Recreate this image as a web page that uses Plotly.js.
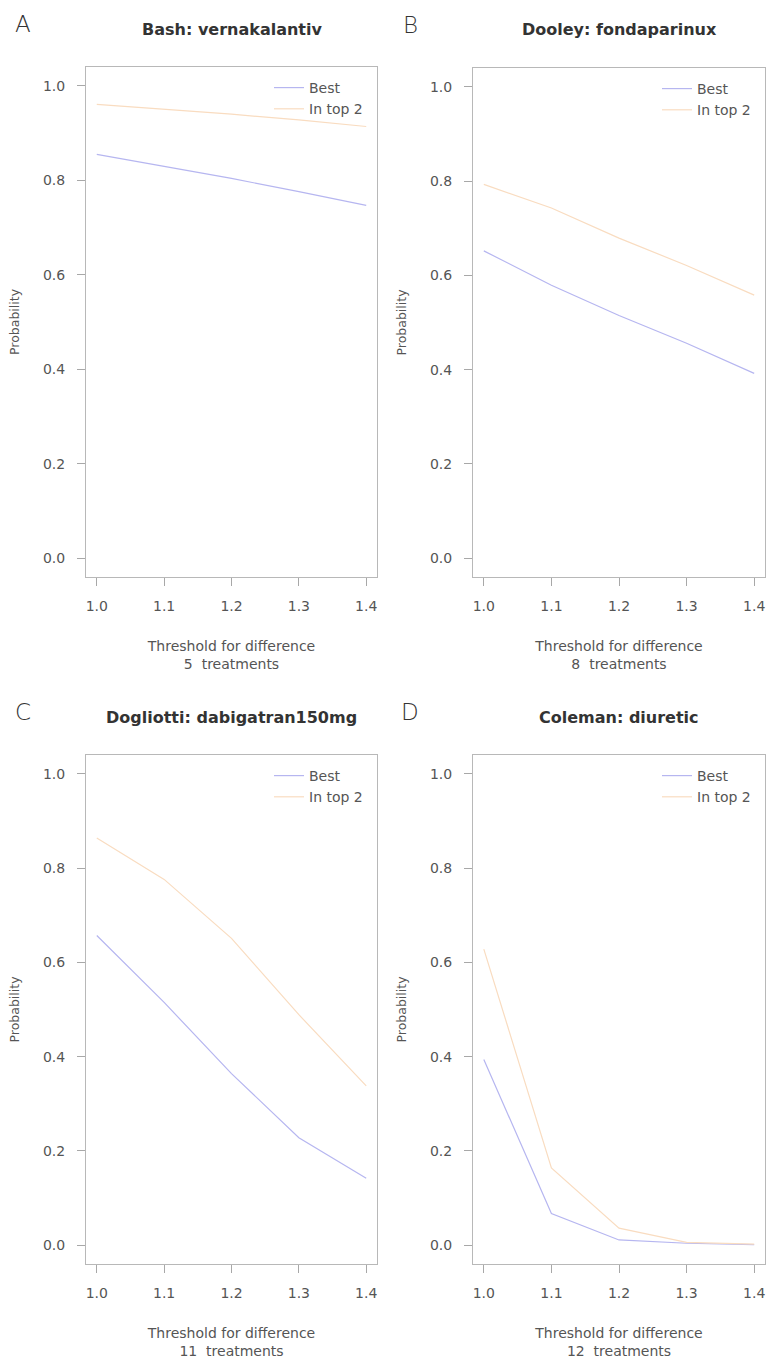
<!DOCTYPE html>
<html>
<head>
<meta charset="utf-8">
<script src="https://cdn.plot.ly/plotly-3.0.1.min.js"></script>
<style>html,body{margin:0;padding:0;background:#fff;}#chart{width:768px;height:1368px;}</style>
</head>
<body>
<div id="chart"></div>
<script>
// ---- data ----
const thresholds = [1.0, 1.1, 1.2, 1.3, 1.4];
const xTickVals = [1.0, 1.1, 1.2, 1.3, 1.4];
const yTickVals = [0.0, 0.2, 0.4, 0.6, 0.8, 1.0];

const bashBest = [0.855, 0.830, 0.804, 0.776, 0.747];
const bashTop2 = [0.961, 0.951, 0.940, 0.928, 0.914];

const dooleyBest = [0.652, 0.579, 0.515, 0.456, 0.392];
const dooleyTop2 = [0.793, 0.743, 0.679, 0.621, 0.558];

const dogliottiBest = [0.657, 0.515, 0.364, 0.228, 0.142];
const dogliottiTop2 = [0.864, 0.776, 0.651, 0.489, 0.338];

const colemanBest = [0.394, 0.067, 0.011, 0.004, 0.001];
const colemanTop2 = [0.628, 0.164, 0.036, 0.006, 0.002];

const panelTitles = ["Bash: vernakalantiv", "Dooley: fondaparinux", "Dogliotti: dabigatran150mg", "Coleman: diuretic"];
const panelLetters = ["A", "B", "C", "D"];
const treatmentCounts = [5, 8, 11, 12];
const seriesNames = ["Best", "In top 2"];

// ---- style ----
const W = 768, H = 1368;
const bestColor = "#b6b6f0";
const top2Color = "#f9dcc0";
const textGray = "#555555";
const boxGray = "#b8b8b8";
const FONT = "DejaVu Sans, Liberation Sans, sans-serif";

const px2x = p => p / W;
const px2y = p => 1 - p / H;

// panel boxes in pixels [left, right, top, bottom]
const boxes = [
  [86, 377, 67, 577],
  [473, 765, 68, 577],
  [86, 377, 755, 1264],
  [473, 765, 755, 1264]
];

const seriesData = [
  [bashBest, bashTop2],
  [dooleyBest, dooleyTop2],
  [dogliottiBest, dogliottiTop2],
  [colemanBest, colemanTop2]
];

const traces = [];
const layout = {
  width: W, height: H,
  margin: {l: 0, r: 0, t: 0, b: 0},
  paper_bgcolor: "#ffffff",
  plot_bgcolor: "#ffffff",
  showlegend: true,
  font: {family: FONT, color: textGray, size: 14},
  annotations: []
};

boxes.forEach((b, i) => {
  const n = i + 1;
  const xa = "x" + (n === 1 ? "" : n);
  const ya = "y" + (n === 1 ? "" : n);
  const lg = "legend" + (n === 1 ? "" : n);
  const colors = [bestColor, top2Color];
  seriesData[i].forEach((vals, k) => {
    traces.push({
      type: "scatter", mode: "lines",
      x: thresholds, y: vals,
      xaxis: xa, yaxis: ya, legend: lg,
      name: seriesNames[k],
      line: {color: colors[k], width: 1.2},
      hoverinfo: "x+y"
    });
  });
  const axCommon = {
    showgrid: false, zeroline: false,
    showline: true, mirror: true, linecolor: boxGray, linewidth: 1,
    ticks: "outside", ticklen: 8, tickcolor: "#a8a8a8", tickwidth: 1,
    tickfont: {family: FONT, size: 14, color: textGray},
    fixedrange: true
  };
  layout["xaxis" + (n === 1 ? "" : n)] = Object.assign({}, axCommon, {
    domain: [px2x(b[0]), px2x(b[1])],
    anchor: ya,
    range: [0.984, 1.416],
    tickvals: xTickVals, tickformat: ".1f",
    ticklabelstandoff: 8,
    title: {text: "Threshold for difference<br>" + treatmentCounts[i] + "  treatments",
            font: {family: FONT, size: 14, color: textGray}, standoff: 28}
  });
  layout["yaxis" + (n === 1 ? "" : n)] = Object.assign({}, axCommon, {
    domain: [px2y(b[3]), px2y(b[2])],
    anchor: xa,
    range: [-0.04, 1.04],
    tickvals: yTickVals, tickformat: ".1f",
    ticklabelstandoff: 9,
    title: {text: "Probability", font: {family: FONT, size: 12.5, color: textGray}, standoff: 20}
  });
  layout[lg] = {
    x: px2x(b[1] - 108), y: px2y(b[2] + 5),
    xanchor: "left", yanchor: "top",
    bgcolor: "rgba(0,0,0,0)", borderwidth: 0,
    font: {family: FONT, size: 14, color: textGray},
    itemwidth: 30, tracegroupgap: 0
  };
  // panel title
  layout.annotations.push({
    xref: "paper", yref: "paper",
    x: px2x((b[0] + b[1]) / 2), y: px2y(b[2] - 38),
    xanchor: "center", yanchor: "middle",
    text: "<b>" + panelTitles[i] + "</b>", showarrow: false,
    font: {family: FONT, size: 16, color: "#333333"}
  });
  // panel letter
  layout.annotations.push({
    xref: "paper", yref: "paper",
    x: px2x(b[0] - 63), y: px2y(b[2] - 43),
    xanchor: "center", yanchor: "middle",
    text: panelLetters[i], showarrow: false,
    font: {family: "DejaVu Sans, Liberation Sans, sans-serif", size: 23, color: "#333333", weight: 200}
  });
});

Plotly.newPlot("chart", traces, layout, {displayModeBar: false, staticPlot: true});
</script>
</body>
</html>
